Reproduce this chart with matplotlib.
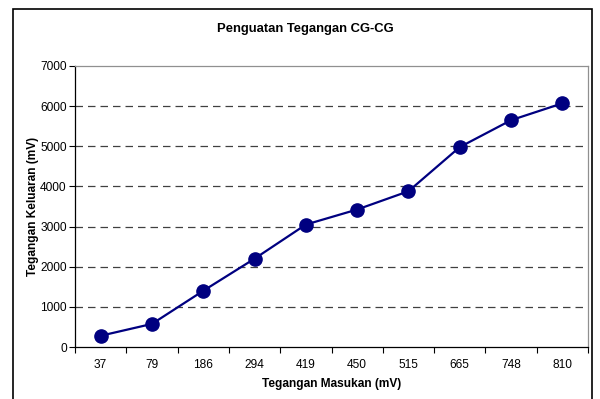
import matplotlib.pyplot as plt
import matplotlib.patches as patches

# data
input_mv = ['37', '79', '186', '294', '419', '450', '515', '665', '748', '810']
output_mv = [280, 575, 1400, 2200, 3050, 3425, 3880, 4980, 5650, 6070]
y_ticks = [0, 1000, 2000, 3000, 4000, 5000, 6000, 7000]

plt.rcParams['font.family'] = ['Liberation Sans', 'DejaVu Sans']

fig = plt.figure(figsize=(6, 3.99), dpi=100)
# plot area in pixels: x 75..588, y 66..347
ax = fig.add_axes([75 / 600, 1 - 347 / 399, 513 / 600, 281 / 399])

x = list(range(len(input_mv)))
ax.plot(x, output_mv, color='#000080', lw=1.6, marker='o', markersize=9.5,
        markerfacecolor='#000080', markeredgecolor='#000080', zorder=3)

ax.set_xlim(-0.5, len(input_mv) - 0.5)
ax.set_ylim(0, 7000)
ax.set_yticks(y_ticks)
ax.set_yticklabels([str(v) for v in y_ticks], fontsize=8.6)

# category labels centered, ticks on boundaries
ax.set_xticks(x)
ax.set_xticklabels(input_mv, fontsize=8.6)
ax.tick_params(axis='x', which='major', length=0, pad=9)
ax.set_xticks([i - 0.5 for i in range(len(input_mv) + 1)], minor=True)
ax.tick_params(axis='x', which='minor', length=4, width=0.8, direction='out')
ax.tick_params(axis='y', length=4, width=0.8, direction='out', pad=2)

for v in y_ticks[1:-1]:
    ax.axhline(v, color='#404040', lw=0.9, ls=(0, (6, 4)), zorder=1)

ax.spines['left'].set_color('black')
ax.spines['bottom'].set_color('black')
ax.spines['top'].set_color('#909090')
ax.spines['right'].set_color('#909090')
for s in ax.spines.values():
    s.set_linewidth(0.9)

ax.set_xlabel('Tegangan Masukan (mV)', fontsize=8.6, fontweight='bold', labelpad=5)
ax.set_ylabel('Tegangan Keluaran (mV)', fontsize=8.6, fontweight='bold', labelpad=1)
fig.text(305 / 600, 1 - 29 / 399, 'Penguatan Tegangan CG-CG',
         ha='center', va='center', fontsize=9.4, fontweight='bold')

# chart border (extends past the bottom edge)
border = patches.Rectangle((13 / 600, -0.1), (592 - 13) / 600, 1.1 - 9 / 399,
                           transform=fig.transFigure, fill=False,
                           edgecolor='black', lw=1.2, clip_on=False)
fig.patches.append(border)

fig.savefig('out.png', dpi=100)
